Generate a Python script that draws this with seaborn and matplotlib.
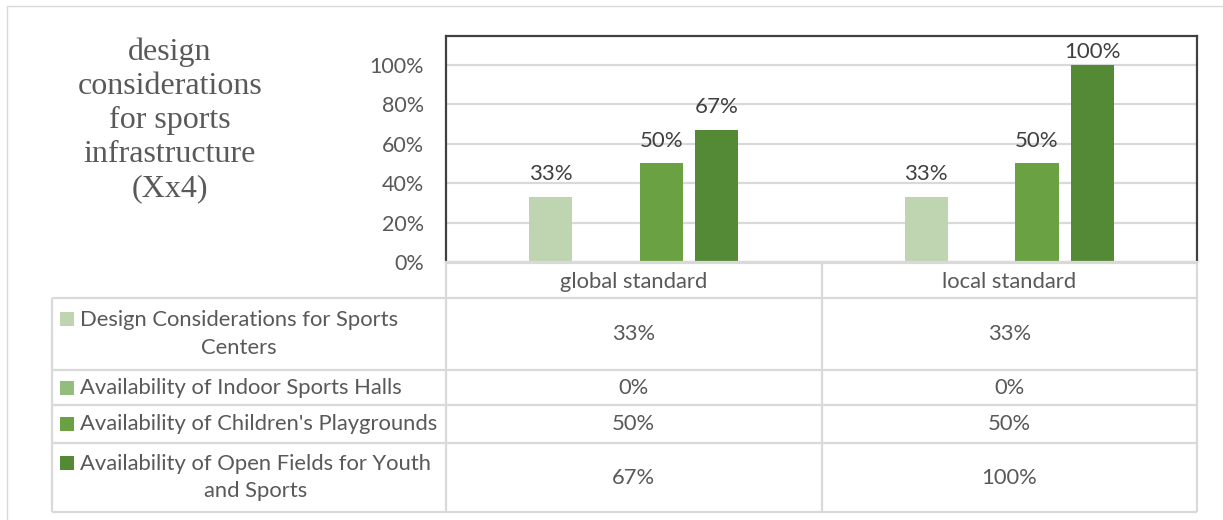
import numpy as np
import pandas as pd
import matplotlib
matplotlib.use("Agg")
import matplotlib.pyplot as plt
import matplotlib.transforms as mtransforms
from matplotlib.patches import Rectangle
import seaborn as sns

# ---- data -------------------------------------------------------------
categories = ["global standard", "local standard"]
series_names = [
    "Design Considerations for Sports Centers",
    "Availability of Indoor Sports Halls",
    "Availability of Children's Playgrounds",
    "Availability of Open Fields for Youth and Sports",
]
series_table_labels = [
    "Design Considerations for Sports\nCenters",
    "Availability of Indoor Sports Halls",
    "Availability of Children's Playgrounds",
    "Availability of Open Fields for Youth\nand Sports",
]
sports_centers = [0.33, 0.33]
indoor_halls = [0.00, 0.00]
playgrounds = [0.50, 0.50]
open_fields = [0.67, 1.00]
series_colors = ["#BFD5B2", "#93BD7D", "#6AA142", "#548A36"]
y_ticks = [0.0, 0.2, 0.4, 0.6, 0.8, 1.0]
y_tick_labels = ["0%", "20%", "40%", "60%", "80%", "100%"]
title_text = "design\nconsiderations\nfor sports\ninfrastructure\n(Xx4)"

series_values = [sports_centers, indoor_halls, playgrounds, open_fields]
df = pd.DataFrame(
    [(cat, name, vals[i])
     for name, vals in zip(series_names, series_values)
     for i, cat in enumerate(categories)],
    columns=["category", "series", "value"],
)

# ---- figure -------------------------------------------------------------
sns.set_theme(style="white")
plt.rcParams["font.family"] = ["Lato", "DejaVu Sans"]

W, H = 1223, 520
fig = plt.figure(figsize=(W / 100, H / 100), dpi=100)
fig.patch.set_facecolor("white")

TEXT = "#595959"
GRID = "#D9D9D9"
FRAME = "#404040"
FS = 15.8

# pixel-space overlay for the data table, title and outer frame
over = fig.add_axes([0, 0, 1, 1], zorder=3)
over.set_xlim(0, W)
over.set_ylim(H, 0)
over.axis("off")

# plot area
x0, x1, y_top, y_base = 446, 1197, 36, 262
ax = fig.add_axes([x0 / W, 1 - y_base / H, (x1 - x0) / W, (y_base - y_top) / H], zorder=2)

sns.barplot(
    data=df, x="category", y="value", hue="series",
    order=categories, hue_order=series_names, palette=series_colors,
    saturation=1, width=0.59, gap=0.22, linewidth=0, legend=False, ax=ax,
)
y_max = 1.147
ax.set_xlim(-0.5, 1.5)
ax.set_ylim(0, y_max)
ax.set_yticks(y_ticks)
ax.set_yticklabels(y_tick_labels, fontsize=15.5, color=TEXT)
ax.set_xticks([])
ax.set_xlabel("")
ax.set_ylabel("")
ax.tick_params(axis="y", length=0, pad=16)
ax.yaxis.grid(True, color=GRID, linewidth=1.6)
ax.set_axisbelow(True)
for side in ["left", "top", "right"]:
    ax.spines[side].set_color(FRAME)
    ax.spines[side].set_linewidth(1.6)
ax.spines["bottom"].set_color(GRID)
ax.spines["bottom"].set_linewidth(1.6)

# value labels above the bars, kept inside the plot area
px_per_unit = (y_base - y_top) / y_max
label_h = 24
for cont in ax.containers:
    for bar, v in zip(cont, cont.datavalues):
        if v <= 0:
            continue
        room = (y_max - v) * px_per_unit
        pad_px = min(12.5, room - label_h - 2)
        ax.annotate(f"{v:.0%}", (bar.get_x() + bar.get_width() / 2, v),
                    xytext=(0, pad_px * 72 / 100), textcoords="offset points",
                    ha="center", va="bottom", fontsize=16, color="#404040")

# ---- data table ---------------------------------------------------------
tbl_left = 52
row_edges = [263, 298, 370, 405, 443, 512]
col_edges = [x0, (x0 + x1) / 2, x1]
lw = 1.6

over.plot([x0, x1], [row_edges[0]] * 2, color=GRID, lw=lw, solid_capstyle="butt")
for y in row_edges[1:]:
    over.plot([tbl_left, x1], [y, y], color=GRID, lw=lw, solid_capstyle="butt")
for x in col_edges:
    over.plot([x, x], [row_edges[0], row_edges[-1]], color=GRID, lw=lw, solid_capstyle="butt")
over.plot([tbl_left, tbl_left], [row_edges[1], row_edges[-1]], color=GRID, lw=lw, solid_capstyle="butt")

blend = mtransforms.blended_transform_factory(ax.transData, over.transData)

# header row with category names
for i, cat in enumerate(categories):
    over.text(i, (row_edges[0] + row_edges[1]) / 2 + 1, cat, transform=blend,
              ha="center", va="center", fontsize=FS, color=TEXT)

# legend keys, series names and values
for r, (label, color, vals) in enumerate(zip(series_table_labels, series_colors, series_values)):
    top, bottom = row_edges[r + 1], row_edges[r + 2]
    yc = (top + bottom) / 2
    multiline = "\n" in label
    key_c = yc - 15 if multiline else yc
    over.add_patch(Rectangle((60, key_c - 7), 14, 14, facecolor=color, edgecolor="none"))
    over.text(80, yc, label, ha="left", va="center", multialignment="center",
              fontsize=FS, color=TEXT, linespacing=1.47)
    for i, v in enumerate(vals):
        over.text(i, yc, f"{v:.0%}", transform=blend, ha="center", va="center",
                  fontsize=FS, color=TEXT)

# chart title on the left
over.text(170, 120, title_text, ha="center", va="center", fontsize=23,
          family=["Liberation Serif", "DejaVu Serif"], color=TEXT, linespacing=1.23)

# light outer frame
over.plot([7, 7, W + 5], [H + 5, 6, 6], color=GRID, lw=1)

fig.savefig("out.png", dpi=100, facecolor="white")
